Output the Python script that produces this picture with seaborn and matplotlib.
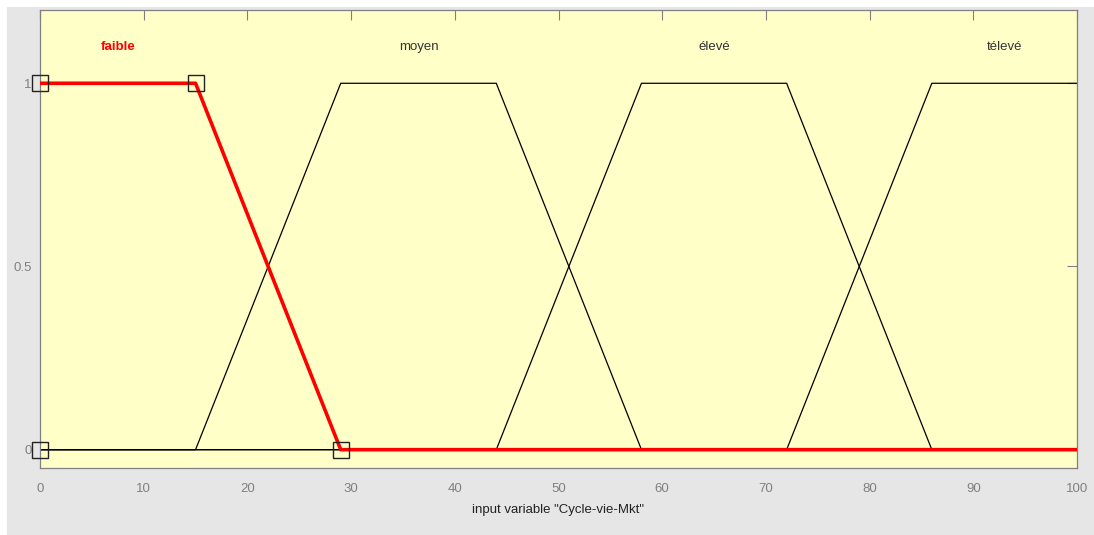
import pandas as pd
import seaborn as sns
import matplotlib.pyplot as plt
from matplotlib.patches import Rectangle

### donnees ###
mf_names = ['faible', 'moyen', 'élevé', 'télevé']
# parametres trapmf [a b c d]
mf_params = {
    'faible': [0, 0, 15, 29],
    'moyen': [15, 29, 44, 58],
    'élevé': [44, 58, 72, 86],
    'télevé': [72, 86, 100, 100],
}
selected = 'faible'
x_range = [0, 100]
x_ticks = [0, 10, 20, 30, 40, 50, 60, 70, 80, 90, 100]
y_ticks = [0, 0.5, 1]
y_tick_labels = ['0', '0.5', '1']
x_label = 'input variable "Cycle-vie-Mkt"'

sns.set_style('white')
plt.rcParams['font.family'] = ['Liberation Sans', 'DejaVu Sans']

fig = plt.figure(figsize=(10.94, 5.35), dpi=100, facecolor='white')
fig.patches.append(Rectangle((7 / 1094, 0), 1, 1 - 7 / 535, transform=fig.transFigure,
                             facecolor='#e6e6e6', edgecolor='none', zorder=-10))
ax = fig.add_axes([40 / 1094, 1 - 468 / 535, 1037 / 1094, 458 / 535])
ax.set_facecolor('#ffffc8')


def trap_points(a, b, c, d):
    # sommets du trapeze, sans trait vertical aux bords de l'intervalle
    xs, ys = [], []
    if a > x_range[0]:
        xs += [x_range[0], a]
        ys += [0, 0]
    if b > a or a == x_range[0]:
        xs.append(b)
        ys.append(1)
    xs.append(c)
    ys.append(1)
    if d > c:
        xs.append(d)
        ys.append(0)
        if d < x_range[1]:
            xs.append(x_range[1])
            ys.append(0)
    return xs, ys


rows = []
for name in mf_names:
    xs, ys = trap_points(*mf_params[name])
    for i, (xv, yv) in enumerate(zip(xs, ys)):
        rows.append({'mf': name, 'order': i, 'x': xv, 'y': yv})
df = pd.DataFrame(rows)

others = df[df['mf'] != selected]
for name, grp in others.groupby('mf'):
    sns.lineplot(data=grp, x='x', y='y', sort=False, color='black', lw=0.9,
                 ax=ax, estimator=None, zorder=2)
sel = df[df['mf'] == selected]
sns.lineplot(data=sel, x='x', y='y', sort=False, color='red', lw=2.6,
             ax=ax, estimator=None, zorder=3)

# carres aux points de parametre de la fonction selectionnee
a, b, c, d = mf_params[selected]
pts = pd.DataFrame({'x': [a, b, c, d], 'y': [0, 1, 1, 0]})
ax.plot(pts['x'], pts['y'], ls='none', marker='s', ms=11, mfc='none',
        mec='#222222', mew=1.0, zorder=4, clip_on=False)

# etiquettes
for name in mf_names:
    a, b, c, d = mf_params[name]
    xm = (b + c) / 2
    if name == selected:
        ax.text(xm, 1.1, name, color='red', fontweight='bold', fontsize=9.5,
                ha='center', va='center')
    else:
        ax.text(xm, 1.1, name, color='#333333', fontsize=9.5,
                ha='center', va='center')

ax.set_xlim(*x_range)
ax.set_ylim(-0.05, 1.2)
ax.set_xticks(x_ticks)
ax.set_yticks(y_ticks)
ax.set_yticklabels(y_tick_labels)
ax.set_xlabel(x_label, fontsize=9.5, color='#222222', labelpad=6)
ax.set_ylabel('')
ax.tick_params(direction='in', length=7, width=0.8, colors='#808080',
               labelcolor='#808080', labelsize=9.5, top=True, right=True)
ax.tick_params(axis='x', pad=11)
ax.tick_params(axis='y', pad=6)
for sp in ax.spines.values():
    sp.set_color('#808080')
    sp.set_linewidth(0.9)

fig.savefig('out.png', dpi=100, facecolor=fig.get_facecolor())
